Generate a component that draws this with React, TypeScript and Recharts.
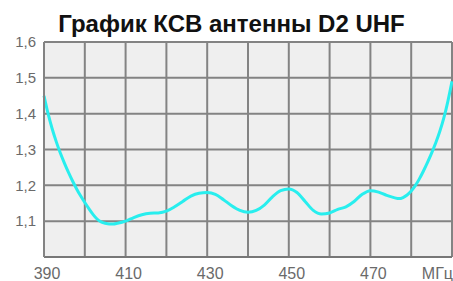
import React from "react";
import { LineChart, Line, XAxis, YAxis, CartesianGrid } from "recharts";

// частота, МГц
const freqs = [
  390, 391, 392, 393, 394, 395, 396, 397, 398, 399, 400, 401, 402, 403, 404, 405,
  406, 407, 408, 410, 412, 414, 416, 418, 420, 422, 424, 426, 428, 430, 432, 434,
  436, 438, 440, 442, 444, 446, 448, 450, 452, 454, 456, 458, 460, 462, 464, 466,
  468, 470, 472, 474, 476, 477, 478, 479, 480, 481, 482, 483, 484, 485, 486, 487,
  488, 489, 490,
];
// КСВ
const swr = [
  1.45, 1.4, 1.358, 1.322, 1.29, 1.262, 1.236, 1.212, 1.19, 1.17, 1.152, 1.135, 1.119, 1.106, 1.098, 1.094,
  1.092, 1.092, 1.094, 1.1, 1.11, 1.118, 1.122, 1.123, 1.128, 1.14, 1.155, 1.17, 1.178, 1.18, 1.175, 1.16,
  1.143, 1.13, 1.125, 1.13, 1.145, 1.168, 1.185, 1.19, 1.18, 1.155, 1.13, 1.12, 1.123, 1.133, 1.14, 1.155,
  1.175, 1.185, 1.181, 1.172, 1.165, 1.163, 1.166, 1.173, 1.184, 1.199, 1.218, 1.24, 1.264, 1.29, 1.318, 1.35,
  1.388, 1.435, 1.49,
];

const xTicks = [390, 400, 410, 420, 430, 440, 450, 460, 470, 480, 490];
const xTickLabels = ["390", "", "410", "", "430", "", "450", "", "470", "", "МГц"];
const yTicks = [1.0, 1.1, 1.2, 1.3, 1.4, 1.5, 1.6];
const yTickLabels = ["", "1,1", "1,2", "1,3", "1,4", "1,5", "1,6"];

const data = freqs.map((f, i) => ({ f, swr: swr[i] }));

const labelStyle = { fontFamily: "'Liberation Sans', Arial, sans-serif", fill: "#6a6a6a" };

function XTick(props: any) {
  const { x, y, payload } = props;
  const i = xTicks.indexOf(payload.value);
  const label = xTickLabels[i];
  if (!label) return null;
  const last = i === xTicks.length - 1;
  return (
    <text x={last ? x + 1 : x + 3} y={y} dy="0.71em" textAnchor={last ? "end" : "middle"} fontSize={16} {...labelStyle}>
      {label}
    </text>
  );
}

function YTick(props: any) {
  const { x, y, payload } = props;
  const i = yTicks.findIndex((t) => Math.abs(t - payload.value) < 1e-6);
  const label = yTickLabels[i];
  if (!label) return null;
  return (
    <text x={x} y={y} dy="0.355em" textAnchor="end" fontSize={15} {...labelStyle}>
      {label}
    </text>
  );
}

export default function App() {
  return (
    <div style={{ position: "absolute", left: 0, top: 0, width: 453, height: 281, background: "#fff", overflow: "hidden" }}>
      <div
        style={{
          position: "absolute",
          left: 0,
          top: 12,
          width: 463,
          textAlign: "center",
          fontFamily: "'Liberation Sans', Arial, sans-serif",
          fontWeight: "bold",
          fontSize: 24,
          lineHeight: "24px",
          color: "#111",
        }}
      >
        График КСВ антенны D2 UHF
      </div>
      <LineChart width={453} height={281} data={data} margin={{ top: 42, right: 1, bottom: 0, left: 0 }}>
        <CartesianGrid stroke="#838383" strokeWidth={2} fill="#efefef" fillOpacity={1} />
        <XAxis
          dataKey="f"
          type="number"
          domain={[390, 490]}
          ticks={xTicks}
          height={24}
          tickLine={false}
          tickSize={6}
          tickMargin={5}
          axisLine={{ stroke: "#777", strokeWidth: 2 }}
          tick={<XTick />}
          interval={0}
        />
        <YAxis
          type="number"
          domain={[1.0, 1.6]}
          ticks={yTicks}
          width={44}
          tickLine={false}
          tickSize={6}
          tickMargin={2}
          axisLine={{ stroke: "#838383", strokeWidth: 2 }}
          tick={<YTick />}
          interval={0}
        />
        <Line
          type="monotone"
          dataKey="swr"
          stroke="#28eeee"
          strokeWidth={3}
          dot={false}
          isAnimationActive={false}
        />
      </LineChart>
    </div>
  );
}
